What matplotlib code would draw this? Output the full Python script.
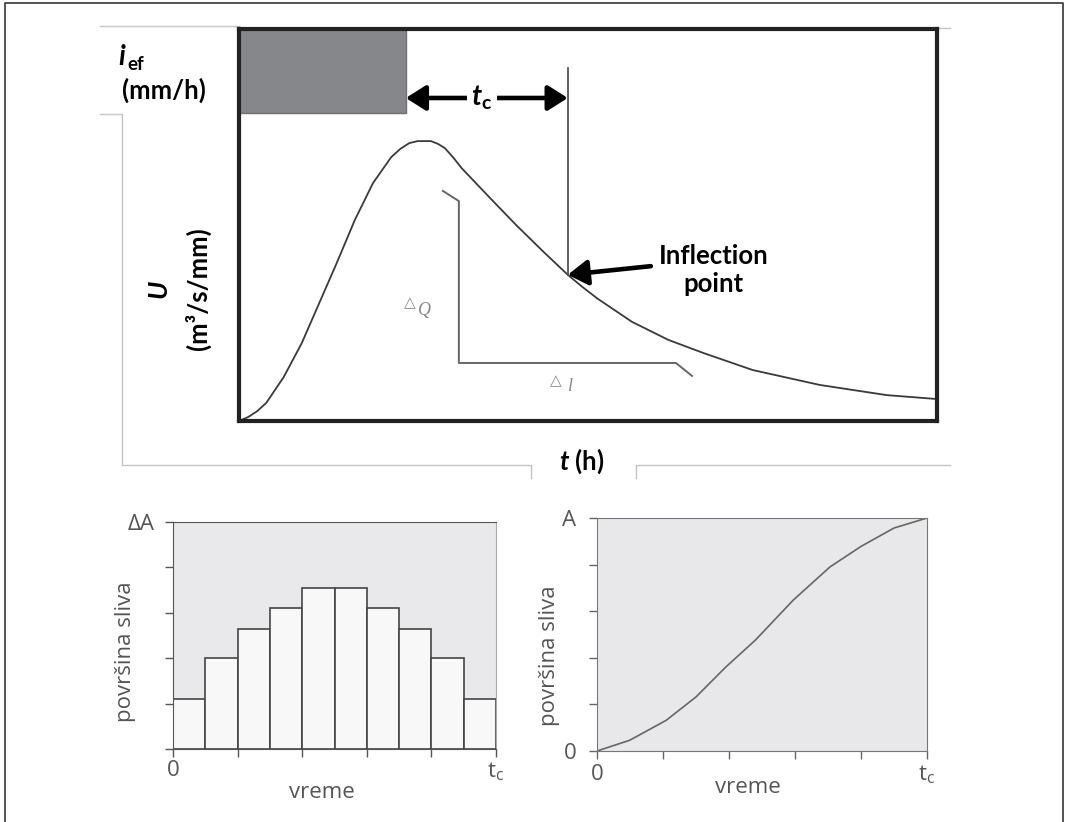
import matplotlib.pyplot as plt
import numpy as np

plt.rcParams['font.family'] = ['Lato', 'DejaVu Sans']
plt.rcParams['mathtext.fontset'] = 'custom'
plt.rcParams['mathtext.it'] = 'Lato:italic:bold'
plt.rcParams['mathtext.rm'] = 'Lato:bold'

# unit hydrograph U(t), t in hours (0..10), U scaled to 0..1
t_h = [0.0, 0.13, 0.26, 0.39, 0.64, 0.90, 1.15, 1.40, 1.66, 1.92, 2.18, 2.31,
       2.44, 2.56, 2.75, 2.85, 2.95, 3.07, 3.19, 3.58, 3.97, 4.36, 4.71, 4.92,
       5.13, 5.63, 6.15, 6.66, 7.36, 8.32, 9.28, 10.0]
U = [0.0, 0.010, 0.025, 0.046, 0.112, 0.199, 0.301, 0.403, 0.513, 0.607, 0.673, 0.694,
     0.709, 0.714, 0.714, 0.707, 0.696, 0.672, 0.645, 0.572, 0.500, 0.432, 0.373, 0.342,
     0.313, 0.253, 0.207, 0.173, 0.130, 0.092, 0.066, 0.056]

# effective rainfall block (drawn from the top of the box)
rain_end = 2.39
rain_top = 1.0
rain_bottom = 0.786

t_inflection = 4.71
U_inflection = 0.373

# slope bracket (dQ / dt)
bracket_t = [2.92, 3.15, 3.15, 6.26, 6.49]
bracket_U = [0.587, 0.561, 0.148, 0.148, 0.115]

# time-area histogram
n_bins = 10
area_bins = [1.1, 2.0, 2.65, 3.1, 3.55, 3.55, 3.1, 2.65, 2.0, 1.1]

# cumulative time-area curve
cum_t = [0.0, 0.099, 0.21, 0.30, 0.39, 0.48, 0.595, 0.706, 0.80, 0.90, 1.0]
cum_A = [0.0, 0.046, 0.132, 0.232, 0.36, 0.476, 0.648, 0.79, 0.878, 0.957, 1.0]

W, H = 1065, 822
fig = plt.figure(figsize=(W / 100, H / 100), dpi=100)


def px_axes(x0, y0, x1, y1):
    return fig.add_axes([x0 / W, 1 - y1 / H, (x1 - x0) / W, (y1 - y0) / H])


# background layer in pixel coordinates for frames and outer labels
bg = fig.add_axes([0, 0, 1, 1])
bg.set_xlim(0, W)
bg.set_ylim(H, 0)
bg.axis('off')

bg.plot([5, 5, 1063, 1063], [822, 3, 3, 822], color='#444444', lw=1.3)
light = dict(color='#c4c4c4', lw=1)
bg.plot([100, 239], [26, 26], **light)
bg.plot([100, 122, 122, 531, 531], [114, 114, 465, 465, 478], **light)
bg.plot([636, 636, 950], [478, 465, 465], **light)
bg.plot([937, 950], [28, 28], **light)

bg.text(118, 57, r'$i$', fontsize=20, ha='left', va='center')
bg.text(127, 64, 'ef', fontsize=13.5, fontweight='bold', ha='left', va='center')
bg.text(122, 90, '(mm/h)', fontsize=18.5, fontweight='bold', ha='left', va='center')
bg.text(161, 290, r'$U$', fontsize=19, rotation=90, ha='center', va='center')
bg.text(198, 289, '(m³/s/mm)', fontsize=18.5, fontweight='bold', rotation=90,
        ha='center', va='center')
bg.text(582, 461, r'$t$ (h)', fontsize=18.5, fontweight='bold', ha='center', va='center')

# main hydrograph panel
ax = px_axes(239, 29, 937, 421)
ax.set_xlim(0, 10)
ax.set_ylim(0, 1)
ax.set_xticks([])
ax.set_yticks([])
for s in ax.spines.values():
    s.set_linewidth(3)
    s.set_color('#222222')

ax.bar(0, rain_top - rain_bottom, bottom=rain_bottom, width=rain_end, align='edge',
       color='#86878b', edgecolor='#6e6f73', lw=1)
ax.plot(t_h, U, color='#3a3a3a', lw=1.3)
ax.plot([t_inflection, t_inflection], [U_inflection, 0.90], color='#555555', lw=1.3)
ax.plot(bracket_t, bracket_U, color='#666666', lw=1.4)

head = 'head_length=0.6,head_width=0.38'
ax.annotate('', xy=(rain_end, 0.824), xytext=(t_inflection, 0.824),
            arrowprops=dict(arrowstyle='<|-|>,' + head, lw=3.3, color='black',
                            mutation_scale=20, shrinkA=0, shrinkB=0))
ax.text(3.48, 0.824, r'$t_{\mathrm{c}}$', fontsize=20, ha='center', va='center',
        bbox=dict(facecolor='white', edgecolor='none', pad=3))
ax.annotate('', xy=(t_inflection, U_inflection), xytext=(5.90, 0.395),
            arrowprops=dict(arrowstyle='-|>,' + head, lw=3.3, color='black',
                            mutation_scale=20, shrinkA=0, shrinkB=0))
ax.text(6.8, 0.385, 'Inflection\npoint', fontsize=18.5, fontweight='bold',
        ha='center', va='center', linespacing=1.2)

ax.text(2.45, 0.302, '\u25b3', fontsize=11, color='#888888', ha='center', va='center',
        family='DejaVu Sans')
ax.text(2.66, 0.283, 'Q', fontsize=13, color='#888888', family='Liberation Serif',
        style='italic', ha='center', va='center')
ax.text(4.54, 0.104, '\u25b3', fontsize=11, color='#888888', ha='center', va='center',
        family='DejaVu Sans')
ax.text(4.73, 0.088, 'l', fontsize=13, color='#888888', family='Liberation Serif',
        style='italic', ha='center', va='center')

small = dict(family=['Open Sans', 'DejaVu Sans'], color='#555555')

# time-area histogram
ax1 = px_axes(173, 522, 496, 749)
ax1.set_facecolor('#e9e9eb')
ax1.bar(np.arange(n_bins), area_bins, width=1, align='edge',
        color='#f8f8f8', edgecolor='#444444', lw=1.2)
ax1.set_xlim(0, n_bins)
ax1.set_ylim(0, 5)
ax1.set_xticks(np.arange(0, n_bins + 1, 2))
ax1.set_xticklabels(['0', '', '', '', '', r'$\mathregular{t_c}$'], **small, fontsize=16)
ax1.set_yticks(np.arange(6))
ax1.set_yticklabels(['', '', '', '', '', 'ΔA'], **small, fontsize=16)
ax1.tick_params(axis='x', length=6, width=1, color='#555555', pad=2)
ax1.tick_params(axis='y', length=6, width=1, color='#555555', pad=7)
for side in ['left', 'bottom', 'top']:
    ax1.spines[side].set_color('#555555')
ax1.spines['right'].set_color('#aaaaaa')
bg.text(322, 792, 'vreme', fontsize=16, ha='center', va='center', **small)
bg.text(125, 652, 'površina sliva', fontsize=16, rotation=90, ha='center',
        va='center', **small)

# cumulative time-area curve
ax2 = px_axes(597, 518, 927, 751)
ax2.set_facecolor('#e8e8ea')
ax2.plot(cum_t, cum_A, color='#666666', lw=1.2)
ax2.set_xlim(0, 1)
ax2.set_ylim(0, 1)
ax2.set_xticks(np.linspace(0, 1, 6))
ax2.set_xticklabels(['0', '', '', '', '', r'$\mathregular{t_c}$'], **small, fontsize=16)
ax2.set_yticks(np.linspace(0, 1, 6))
ax2.set_yticklabels(['0', '', '', '', '', 'A'], **small, fontsize=16)
ax2.tick_params(axis='x', length=6, width=1, color='#666666', pad=3)
ax2.tick_params(axis='y', length=6, width=1, color='#666666', pad=9)
for s in ax2.spines.values():
    s.set_color('#777777')
bg.text(748, 787, 'vreme', fontsize=16, ha='center', va='center', **small)
bg.text(550, 656, 'površina sliva', fontsize=16, rotation=90, ha='center',
        va='center', **small)

fig.savefig('out.png', dpi=100)
